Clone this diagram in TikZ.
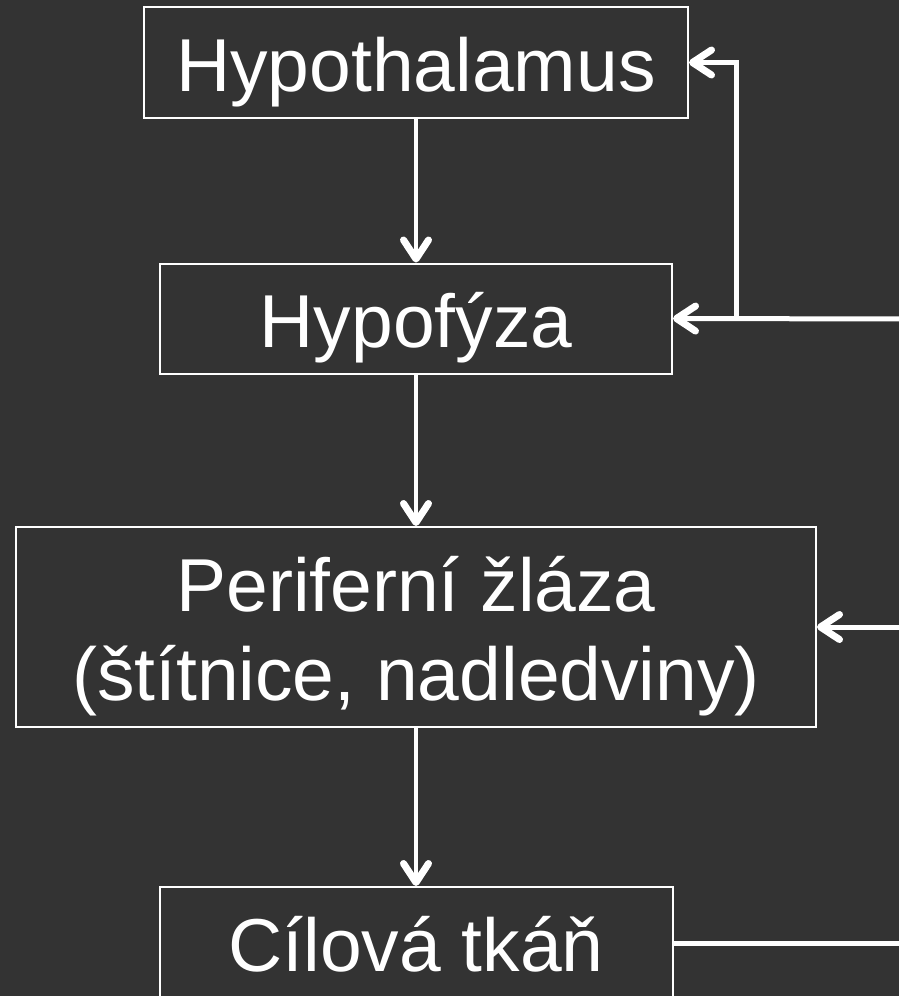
\documentclass[tikz,border=0pt]{standalone}
\usepackage{fontspec}
\setmainfont{Liberation Sans}
\usetikzlibrary{arrows.meta}
\definecolor{bg}{HTML}{333333}
\begin{document}
\begin{tikzpicture}[x=1pt,y=-1pt,
  box/.style={draw=white, line width=2pt, text=white, inner sep=0pt,
    font=\fontsize{75}{89}\selectfont, align=center,
    text height=57pt, text depth=0pt},
  tip/.style={-{Straight Barb[length=19pt,width=25pt,line width=7pt,line cap=round,line join=round]}},
  down/.style={white, line width=4pt, tip},
  fb/.style={white, line width=5pt}]
\fill[bg] (0,0) rectangle (899,996);
\useasboundingbox (0,0) rectangle (899,996);
\clip (0,0) rectangle (899,996);
\node[box, minimum width=544pt, minimum height=111pt] (hyp) at (416,62.5) {Hypothalamus};
\node[box, minimum width=512pt, minimum height=110pt] (hyf) at (416,318.5) {Hypofýza};
\node[box, minimum width=800pt, minimum height=200pt, text height=146pt] (per) at (416,627) {Periferní žláza\\(štítnice, nadledviny)};
\node[box, minimum width=513pt, minimum height=112pt] (cil) at (416,943) {Cílová tkáň};
\coordinate (r1) at (910,319);
\coordinate (r2) at (910,627);
\coordinate (r3) at (910,943);
\coordinate (k) at (736,319);
\draw[down] (hyp.south) -- (hyf.north);
\draw[down] (hyf.south) -- (per.north);
\draw[down] (per.south) -- (cil.north);
\draw[fb] (cil.east) -- (r3);
\draw[fb, tip] (r2) -- (per.east);
\draw[fb, tip] (r1) -- (hyf.east);
\draw[fb, tip] (k) |- (hyp.east);
\end{tikzpicture}
\end{document}
